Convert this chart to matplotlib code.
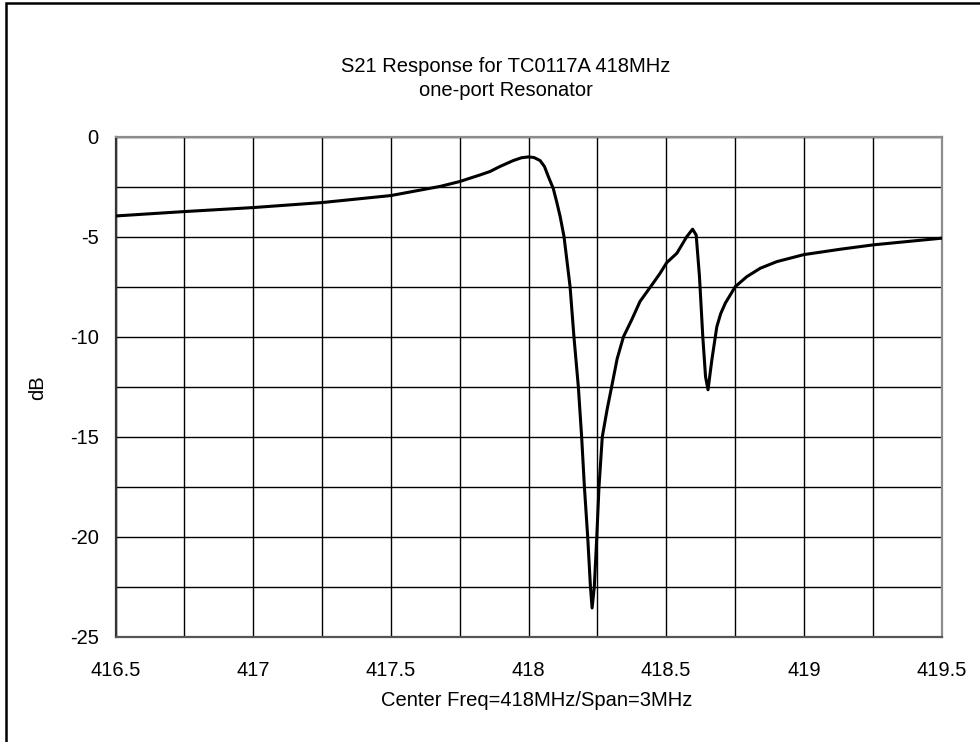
import matplotlib.pyplot as plt
from matplotlib.patches import Rectangle
from matplotlib.ticker import MultipleLocator

plt.rcParams['font.family'] = ['Liberation Sans', 'DejaVu Sans']

# values
freq = [416.5, 416.75, 417.0, 417.25, 417.5, 417.68, 417.75, 417.824, 417.86, 417.896,
        417.945, 417.975, 418.0, 418.02, 418.042, 418.058, 418.072, 418.09, 418.103, 418.115,
        418.129, 418.151, 418.165, 418.181, 418.193, 418.203, 418.215, 418.225, 418.231, 418.239,
        418.248, 418.256, 418.268, 418.286, 418.302, 418.322, 418.345, 418.375, 418.405, 418.454,
        418.478, 418.502, 418.539, 418.575, 418.596, 418.609, 418.621, 418.633, 418.643, 418.652,
        418.666, 418.684, 418.698, 418.715, 418.751, 418.793, 418.842, 418.902, 419.0, 419.133,
        419.254, 419.5]
s21 = [-3.97, -3.75, -3.55, -3.3, -2.95, -2.49, -2.25, -1.92, -1.75, -1.5,
       -1.2, -1.06, -1.02, -1.05, -1.2, -1.5, -2.0, -2.6, -3.3, -4.0,
       -5.0, -7.5, -10.0, -12.5, -15.0, -17.5, -20.0, -22.5, -23.55, -22.5,
       -20.0, -17.5, -15.0, -13.6, -12.5, -11.1, -10.0, -9.15, -8.24, -7.3,
       -6.83, -6.3, -5.83, -5.0, -4.63, -4.92, -7.0, -10.0, -12.0, -12.65,
       -11.15, -9.5, -8.85, -8.32, -7.5, -7.0, -6.58, -6.25, -5.9, -5.63,
       -5.41, -5.08]

xticks = [416.5, 417, 417.5, 418, 418.5, 419, 419.5]
xticklabels = ['416.5', '417', '417.5', '418', '418.5', '419', '419.5']
yticks = [0, -5, -10, -15, -20, -25]

W, H = 980, 742
fig = plt.figure(figsize=(9.8, 7.42), dpi=100)
ax = fig.add_axes([115.5 / W, 1 - 637 / H, (941.5 - 115.5) / W, (637 - 136.5) / H])

ax.plot(freq, s21, color='black', lw=2.2, solid_joinstyle='round', zorder=3)

ax.set_xlim(416.5, 419.5)
ax.set_ylim(-25, 0)
ax.set_xticks(xticks)
ax.set_xticklabels(xticklabels)
ax.set_yticks(yticks)
ax.set_yticklabels([str(v) for v in yticks])
ax.xaxis.set_minor_locator(MultipleLocator(0.25))
ax.yaxis.set_minor_locator(MultipleLocator(2.5))
ax.grid(which='both', color='black', lw=1.0)
ax.tick_params(which='both', length=0)
ax.tick_params(axis='x', pad=17, labelsize=14.5)
ax.tick_params(axis='y', pad=12, labelsize=14.5)

for side in ['top', 'right']:
    ax.spines[side].set_color('#8c8c8c')
    ax.spines[side].set_linewidth(1.6)
ax.spines['left'].set_color('#333333')
ax.spines['left'].set_linewidth(1.6)
ax.spines['bottom'].set_color('#555555')
ax.spines['bottom'].set_linewidth(1.6)

fig.text(506 / W, 1 - 67 / H, 'S21 Response for TC0117A 418MHz', ha='center', va='center', fontsize=14.5)
fig.text(506 / W, 1 - 90 / H, 'one-port Resonator', ha='center', va='center', fontsize=14.5)
fig.text(537 / W, 1 - 700 / H, 'Center Freq=418MHz/Span=3MHz', ha='center', va='center', fontsize=14.5)
fig.text(38 / W, 1 - 388 / H, 'dB', ha='center', va='center', rotation=90, fontsize=14.5)

# chart area border, only top and left edges fall inside the picture
fig.patches.append(Rectangle((6 / W, -0.1), 1.2, 1 - 3 / H + 0.1, transform=fig.transFigure,
                             fill=False, edgecolor='black', lw=1.8))

fig.savefig('out.png', dpi=100)
